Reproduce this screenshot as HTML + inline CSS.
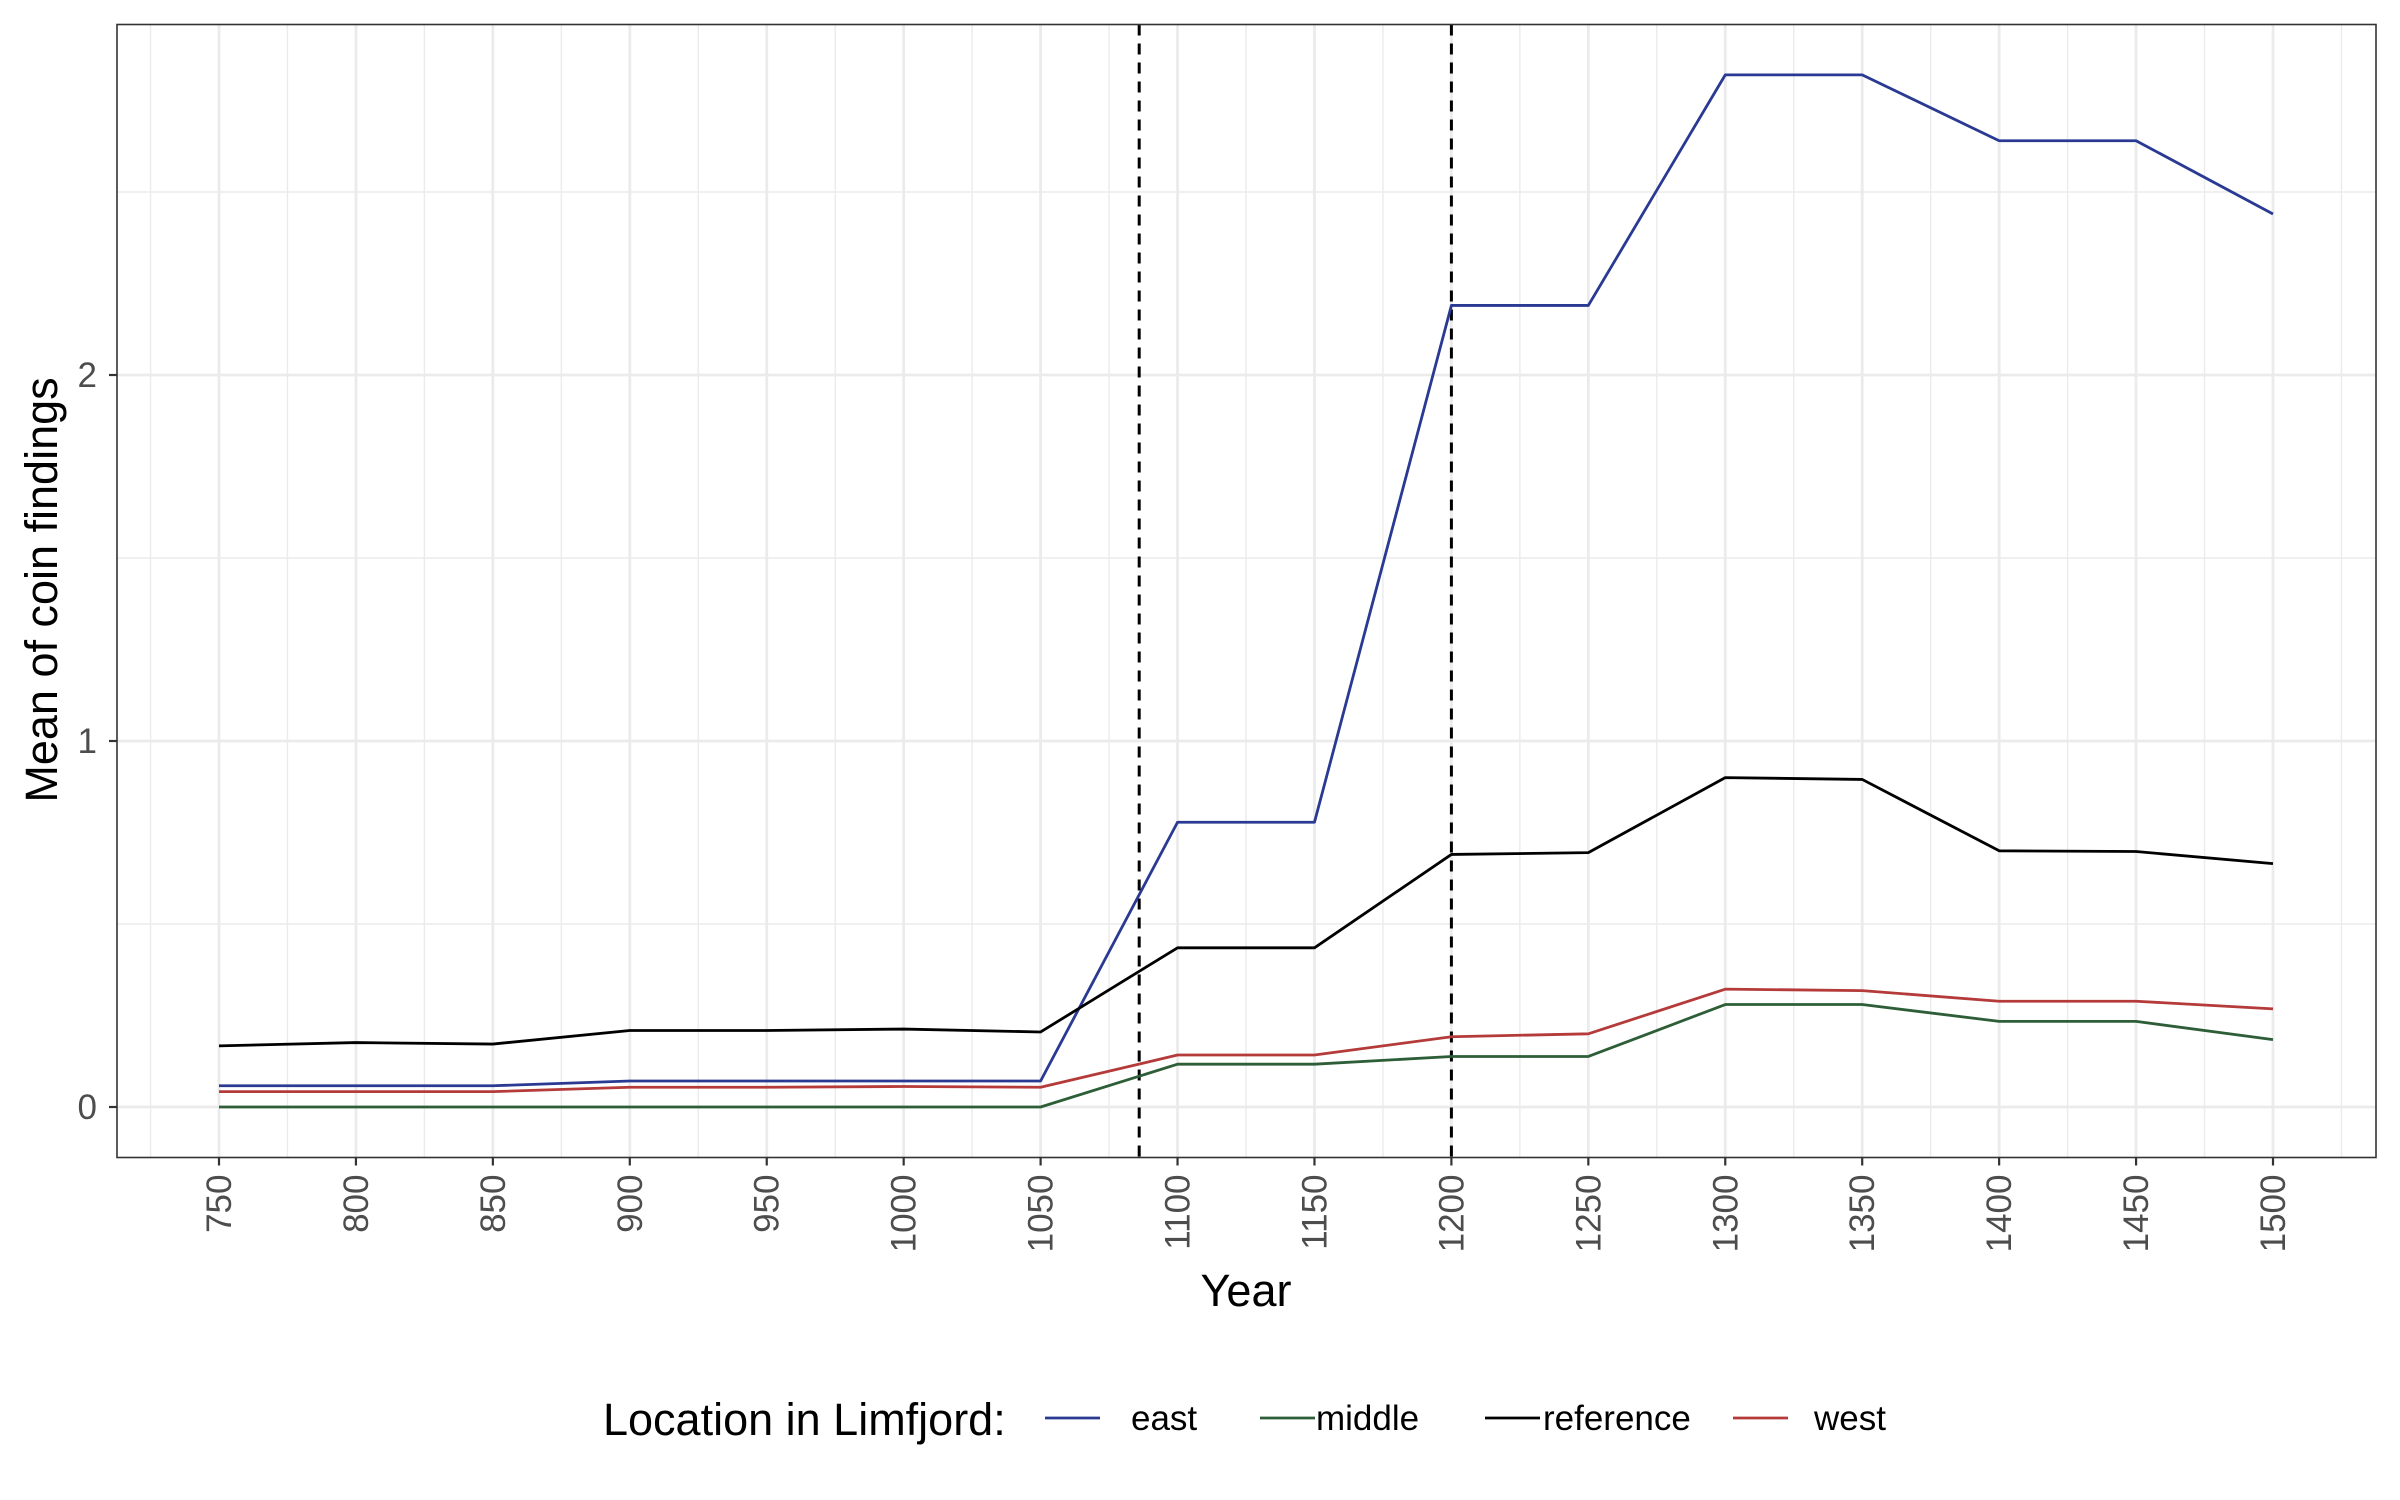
<!DOCTYPE html>
<html><head><meta charset="utf-8"><style>
html,body{margin:0;padding:0;background:#fff;}
svg{display:block;font-family:"Liberation Sans",Arial,sans-serif;}
</style></head><body>
<svg id="chart" width="2400" height="1500" viewBox="0 0 2400 1500">
<rect x="0" y="0" width="2400" height="1500" fill="#fff"/>
<g id="grid"></g>
<g id="vlines"></g>
<g id="series"></g>
<rect x="117" y="24.5" width="2259" height="1133" fill="none" stroke="#333" stroke-width="1.6"/>
<g id="axes"></g>
<text x="1246" y="1306" font-size="45" text-anchor="middle" fill="#000">Year</text>
<text transform="translate(57,590) rotate(-90)" font-size="45" text-anchor="middle" fill="#000">Mean of coin findings</text>
<g id="legend">
<text x="603" y="1435" font-size="45" fill="#000">Location in Limfjord:</text>
</g>
</svg>
<script>
const years = [750,800,850,900,950,1000,1050,1100,1150,1200,1250,1300,1350,1400,1450,1500];
const east = [0.058,0.058,0.058,0.071,0.071,0.071,0.071,0.778,0.778,2.19,2.19,2.82,2.82,2.64,2.64,2.44];
const middle = [0,0,0,0,0,0,0,0.117,0.117,0.138,0.138,0.28,0.28,0.234,0.234,0.184];
const reference = [0.167,0.176,0.172,0.209,0.209,0.213,0.205,0.435,0.435,0.69,0.695,0.9,0.895,0.7,0.698,0.665];
const west = [0.042,0.042,0.042,0.054,0.054,0.056,0.054,0.142,0.142,0.192,0.2,0.322,0.318,0.289,0.289,0.268];
const yTicks = [0,1,2];
const eventYears = [1086,1200];
const seriesNames = ['east','middle','reference','west'];
const seriesColors = ['#2a3a93','#2d5e37','#000000','#b53a3a'];

const NS='http://www.w3.org/2000/svg';
const X0=219, X1=2273, Y0=1107, YU=366;
const xs = y => X0 + (y-750)*(X1-X0)/750;
const ys = v => Y0 - v*YU;
function mk(tag, attrs, parent){const e=document.createElementNS(NS,tag);for(const k in attrs)e.setAttribute(k,attrs[k]);parent.appendChild(e);return e;}
const grid=document.getElementById('grid'), axes=document.getElementById('axes'), ser=document.getElementById('series'), vl=document.getElementById('vlines'), leg=document.getElementById('legend');
const L=117,R=2376,T=24.5,B=1157.5;
for(let v=0.5;v<3;v+=1){const l=mk('line',{x1:L,x2:R,y1:ys(v),y2:ys(v),stroke:'#ebebeb','stroke-width':1.4},grid);

}
for(let i=0;i<=years.length;i++){const yv=years[0]-25+i*50;const l=mk('line',{x1:xs(yv),x2:xs(yv),y1:T,y2:B,stroke:'#ebebeb','stroke-width':1.4},grid);

}
yTicks.forEach(v=>{const l=mk('line',{x1:L,x2:R,y1:ys(v),y2:ys(v),stroke:'#ebebeb','stroke-width':2.8},grid);


const t=mk('line',{x1:L-8,x2:L,y1:ys(v),y2:ys(v),stroke:'#333','stroke-width':2.2},axes);


const tx=mk('text',{x:L-20,y:ys(v)+12,'font-size':35,'text-anchor':'end',fill:'#4d4d4d'},axes);tx.textContent=v;

});
years.forEach(yv=>{const l=mk('line',{x1:xs(yv),x2:xs(yv),y1:T,y2:B,stroke:'#ebebeb','stroke-width':2.8},grid);


const t=mk('line',{x1:xs(yv),x2:xs(yv),y1:B,y2:B+8,stroke:'#333','stroke-width':2.2},axes);


const tx=mk('text',{transform:`translate(${xs(yv)+12},${B+17}) rotate(-90)`,'font-size':35,'text-anchor':'end',fill:'#4d4d4d'},axes);tx.textContent=yv;

});
eventYears.forEach(yv=>{const l=mk('line',{x1:xs(yv),x2:xs(yv),y1:T,y2:B,stroke:'#000','stroke-width':3,'stroke-dasharray':'11,8'},vl);

});
const data=[east,middle,reference,west];
const keyX=[1045,1260,1485,1733];
const labelX=[1131,1316,1543,1814];
data.forEach((arr,i)=>{const p=mk('polyline',{points:arr.map((v,j)=>xs(years[j])+','+ys(v)).join(' '),fill:'none',stroke:seriesColors[i],'stroke-width':2.8,'stroke-linejoin':'round'},ser);


const k=mk('line',{x1:keyX[i],x2:keyX[i]+55,y1:1418,y2:1418,stroke:seriesColors[i],'stroke-width':2.8},leg);


const t=mk('text',{x:labelX[i],y:1430,'font-size':35,fill:'#000'},leg);t.textContent=seriesNames[i];

});
</script>
</body></html>
